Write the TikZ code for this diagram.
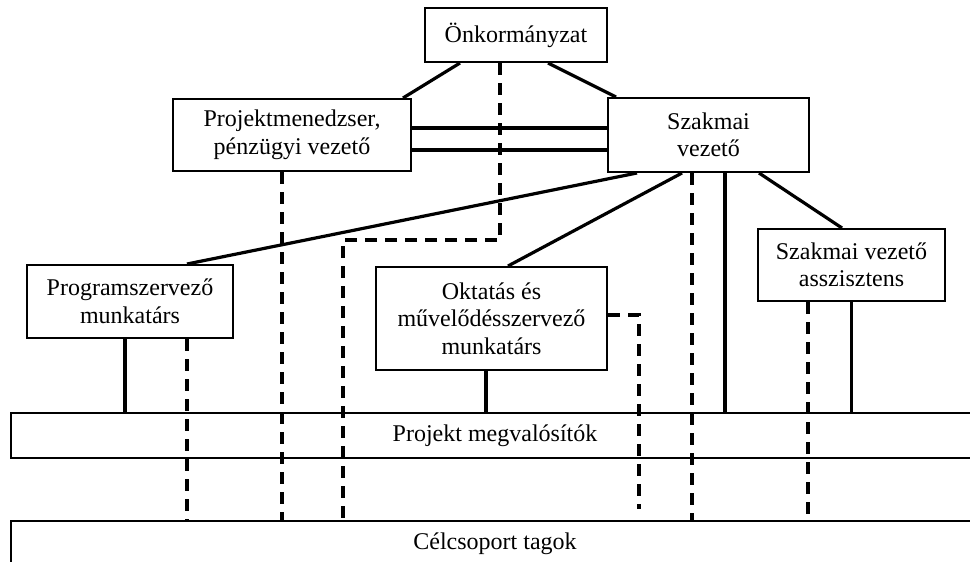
\documentclass[tikz,border=0pt]{standalone}
\usepackage{fontspec}
\setmainfont{Liberation Serif}
\usetikzlibrary{calc}
\begin{document}
\begin{tikzpicture}[x=1pt,y=-1pt,
  box/.style={draw=black,line width=2pt,fill=white,inner sep=0pt,align=center,
    font=\fontsize{24}{27.5}\selectfont},
  conn/.style={line width=3.2pt},
  dconn/.style={line width=3.2pt,dash pattern=on 12pt off 8pt}]
\useasboundingbox (0,0) rectangle (970,562);
% bands
\node[box,minimum width=968pt,minimum height=45pt] (pmeg) at (495,435.5) {Projekt megvalósítók};
\node[box,minimum width=968pt,minimum height=46pt] (cel) at (495,544) {Célcsoport tagok};
% boxes
\node[box,minimum width=182pt,minimum height=54pt] (onk) at (516,35) {Önkormányzat};
\node[box,minimum width=238pt,minimum height=72pt] (pm) at (292,135) {Projektmenedzser,\\pénzügyi vezető};
\node[box,minimum width=201pt,minimum height=74pt] (szv) at (708.5,135) {Szakmai\\vezető};
\node[box,minimum width=206pt,minimum height=73pt] (prog) at (130,301.5) {Programszervező\\munkatárs};
\node[box,minimum width=231pt,minimum height=103pt] (okt) at (491.5,318.5) {Oktatás és\\művelődésszervező\\munkatárs};
\node[box,minimum width=187pt,minimum height=72pt] (asz) at (851.5,265) {Szakmai vezető\\asszisztens};
\coordinate (k1) at (343,240);
\coordinate (k2) at (639,315);
% solid connectors
\draw[conn] ([xshift=36pt]onk.south west) -- ([xshift=-9pt]pm.north east);
\draw[conn] ([xshift=-60pt]onk.south east) -- ([xshift=9pt]szv.north west);
\draw[conn] ([yshift=7pt]pm.east) -- ([yshift=7pt]szv.west);
\draw[conn] ([yshift=-15pt]pm.east) -- ([yshift=-15pt]szv.west);
\draw[conn] ([xshift=30pt]szv.south west) -- ([xshift=57pt]prog.north);
\draw[conn] ([xshift=-26.5pt]szv.south) -- ([xshift=16.5pt]okt.north);
\draw[conn] ([xshift=16.5pt]szv.south) -- ([xshift=16.5pt]szv.south |- pmeg.north);
\draw[conn] ([xshift=50.5pt]szv.south) -- ([xshift=-9.5pt]asz.north);
\draw[conn] (asz.south) -- (asz.south |- pmeg.north);
\draw[conn] ([xshift=-5.5pt]okt.south) -- ([xshift=-5.5pt]okt.south |- pmeg.north);
\draw[conn] ([xshift=-5pt]prog.south) -- ([xshift=-5pt]prog.south |- pmeg.north);
% dashed connectors
\draw[dconn] ([xshift=-16pt]onk.south) |- (k1) -- (k1 |- cel.north);
\draw[dconn] ([xshift=-10pt]pm.south) -- ([xshift=-10pt]pm.south |- cel.north);
\draw[dconn] ([xshift=-16.5pt]szv.south) -- ([xshift=-16.5pt]szv.south |- cel.north);
\draw[dconn] ([xshift=-43.5pt]asz.south) -- ([xshift=-43.5pt]asz.south |- cel.north);
\draw[dconn] ([xshift=57pt]prog.south) -- ([xshift=57pt]prog.south |- cel.north);
\draw[dconn] (okt.east |- k2) -- (k2) -- ([yshift=11pt]k2 |- cel.north);
\end{tikzpicture}
\end{document}
